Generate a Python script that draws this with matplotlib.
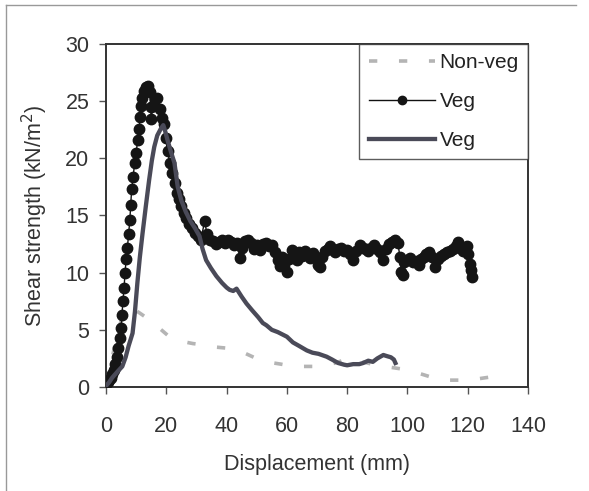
import matplotlib
matplotlib.use("Agg")
import matplotlib.pyplot as plt
from matplotlib.lines import Line2D

plt.rcParams['font.family'] = ['Liberation Sans', 'DejaVu Sans']

# Vegetated sample, logged readings (markers)
veg_pts_x = [0, 0.5, 1, 1.5, 2, 2.5, 3, 3.5, 4, 4.5, 5, 5.3, 5.6, 6, 6.3, 6.7, 7.1, 7.5, 7.9, 8.2,
             8.5, 9, 9.5, 10, 10.5, 11, 11.3, 11.6, 12, 12.6, 13.3, 14, 14.5, 14.8, 15, 15.5, 16.2, 17,
             17.8, 18.5, 19.2, 19.8, 20.4, 21.2, 22, 22.8, 23.6, 24.3, 25, 25.8, 26.6, 27.5, 28.5, 29.5,
             30.5, 31.5, 32.7, 33.5, 34.5, 35.5, 36.5, 37.5, 38.5, 39.5, 40.5, 41.5, 42.5, 43.5, 44.5,
             45.2, 46, 47, 48, 49, 50, 51, 52, 53, 54, 55, 56, 57, 57.8, 58.5, 59.2, 60, 60.8, 61.6,
             62.5, 63.2, 64, 65, 66, 67, 67.8, 68.6, 69.5, 70.3, 71, 71.8, 72.5, 73.5, 74.3, 75.2, 76,
             77, 78, 79, 80, 81, 82, 83, 84.3, 85.2, 86.2, 87, 88, 89, 90, 91, 92, 93, 94, 95, 96, 96.8,
             97.5, 98, 98.4, 99, 100, 101, 102, 103, 103.8, 104.6, 105.5, 106.3, 107, 108, 109.3, 110,
             111, 112, 113, 114, 115, 116, 116.6, 117.5, 118.5, 119.2, 119.9, 120.2, 120.6, 121, 121.4]
veg_pts_y = [0.3, 0.4, 0.6, 0.8, 1.1, 1.5, 2.0, 2.6, 3.4, 4.3, 5.2, 6.3, 7.5, 8.7, 10.0, 11.2, 12.2,
             13.4, 14.6, 15.9, 17.3, 18.4, 19.6, 20.5, 21.6, 22.6, 23.6, 24.6, 25.3, 25.9, 26.2, 26.3,
             25.8, 24.5, 23.4, 24.6, 25.2, 25.3, 24.3, 23.5, 23.0, 21.8, 20.6, 19.6, 18.7, 17.8, 17.0,
             16.4, 15.8, 15.2, 14.8, 14.3, 13.9, 13.5, 13.2, 12.9, 14.5, 13.4, 12.9, 12.8, 12.5, 12.7,
             12.9, 12.6, 12.9, 12.7, 12.4, 12.6, 11.3, 12.2, 12.8, 12.9, 12.6, 12.1, 12.4, 12.0, 12.5,
             12.6, 12.3, 12.4, 11.8, 11.1, 10.6, 11.4, 10.7, 10.1, 11.2, 12.0, 11.6, 11.1, 11.8, 11.5,
             11.9, 11.6, 11.3, 11.7, 11.4, 10.7, 10.5, 11.4, 11.9, 12.1, 12.3, 12.0, 11.8, 12.1, 12.2,
             11.9, 12.0, 11.6, 11.1, 11.9, 12.4, 12.2, 12.1, 11.9, 12.2, 12.4, 12.1, 11.8, 11.1, 12.1,
             12.5, 12.7, 12.9, 12.6, 11.4, 10.1, 9.8, 10.9, 11.1, 11.3, 10.9, 11.0, 10.7, 11.2, 11.4,
             11.6, 11.8, 11.4, 10.5, 11.2, 11.5, 11.6, 11.8, 11.9, 12.1, 12.3, 12.7, 12.2, 11.9, 12.1,
             12.3, 11.6, 10.8, 10.2, 9.6]

# Vegetated sample, second test (continuous trace)
veg_line_x = [0, 1, 2, 3, 4, 5.4, 6.5, 7.5, 8.8, 9.6, 10.4, 11.2, 12.1, 13.2, 14.3, 15.2, 16, 17,
              18.2, 19, 19.6, 20.4, 21.5, 22.7, 23.8, 25, 26.5, 28, 29.5, 31, 32, 33.2, 34.8, 36.6,
              38.5, 40, 41, 42.2, 43.3, 45, 46.6, 48.5, 50.5, 52, 53.2, 55, 57, 58.5, 60, 62, 64,
              66.6, 68.5, 70.5, 73.2, 75, 77, 79, 80, 82, 84, 85.3, 87, 88.5, 90, 91, 92, 93.2, 94.5,
              95.5, 96]
veg_line_y = [0.1, 0.4, 0.8, 1.1, 1.4, 1.8, 2.6, 3.6, 4.7, 6.6, 9.1, 11.3, 13.4, 15.8, 18.1, 19.8,
              21.0, 22.0, 22.6, 22.9, 22.4, 21.6, 20.6, 19.6, 17.5, 16.3, 15.3, 14.5, 13.9, 13.2, 12.1,
              11.1, 10.4, 9.7, 9.1, 8.7, 8.5, 8.4, 8.6, 7.9, 7.3, 6.7, 6.1, 5.6, 5.4, 5.0, 4.8, 4.6,
              4.4, 3.9, 3.6, 3.2, 3.0, 2.9, 2.65, 2.4, 2.1, 1.95, 1.9, 2.0, 2.0, 2.1, 2.3, 2.2, 2.5,
              2.65, 2.8, 2.7, 2.6, 2.4, 2.1]

# Non-vegetated sample
nonveg_x = [0, 2, 4, 6, 8, 11, 14.3, 17, 21, 25, 28.8, 32, 36, 40, 44.9, 49, 53.2, 58, 62, 67, 72,
            76, 80.6, 85, 90, 95, 100, 105, 109.3, 114, 118.8, 123, 128.2]
nonveg_y = [0.3, 2.5, 5.0, 6.5, 7.0, 6.5, 5.9, 5.3, 4.4, 4.0, 3.8, 3.7, 3.5, 3.4, 3.1, 2.6, 2.2, 2.0,
            1.8, 1.8, 1.8, 2.1, 2.5, 2.2, 1.9, 1.7, 1.5, 1.1, 0.75, 0.6, 0.6, 0.7, 0.9]

x_ticks = [0, 20, 40, 60, 80, 100, 120, 140]
y_ticks = [0, 5, 10, 15, 20, 25, 30]

fig = plt.figure(figsize=(5.89, 4.91), dpi=100)
fig.patch.set_facecolor('white')

# thin outer frame (left and top)
fig.add_artist(Line2D([0.010, 0.010], [0.0, 0.990], transform=fig.transFigure,
                      color='#999999', lw=1.0))
fig.add_artist(Line2D([0.010, 0.978], [0.990, 0.990], transform=fig.transFigure,
                      color='#999999', lw=1.0))

ax = fig.add_axes([0.180, 0.2118, 0.7165, 0.6986])

nv, = ax.plot(nonveg_x, nonveg_y, color='#b4b4b4', lw=2.6, dashes=(2.3, 6),
              label='Non-veg', zorder=2)
vm, = ax.plot(veg_pts_x, veg_pts_y, color='#111111', lw=1.0, marker='o', ms=7.5,
              markerfacecolor='#151515', markeredgecolor='#151515', label='Veg', zorder=3)
vl, = ax.plot(veg_line_x, veg_line_y, color='#4a4a58', lw=3.1, label='Veg', zorder=4)

ax.set_xlim(0, 140)
ax.set_ylim(0, 30)
ax.set_xticks(x_ticks)
ax.set_yticks(y_ticks)
ax.tick_params(axis='both', direction='out', length=5, width=1, color='#555555',
               labelsize=15.5, labelcolor='#333333')
ax.tick_params(axis='x', pad=16)
ax.tick_params(axis='y', pad=7)
for s in ax.spines.values():
    s.set_color('#333333')
    s.set_linewidth(1.4)

ax.set_xlabel('Displacement (mm)', fontsize=15.5, color='#333333', labelpad=12)
ax.set_ylabel('Shear strength (kN/m$^2$)', fontsize=15.5, color='#333333', labelpad=11)

leg = ax.legend(handles=[nv, vm, vl], loc='upper right', fontsize=15, frameon=True,
                fancybox=False, borderaxespad=0, handlelength=3.2, handletextpad=0.2,
                labelspacing=0.95, borderpad=0.45, markerscale=0.8)
leg.get_frame().set_edgecolor('#333333')
leg.get_frame().set_linewidth(1.0)
for t in leg.get_texts():
    t.set_color('#222222')

fig.savefig('out.png', dpi=100, facecolor='white')
